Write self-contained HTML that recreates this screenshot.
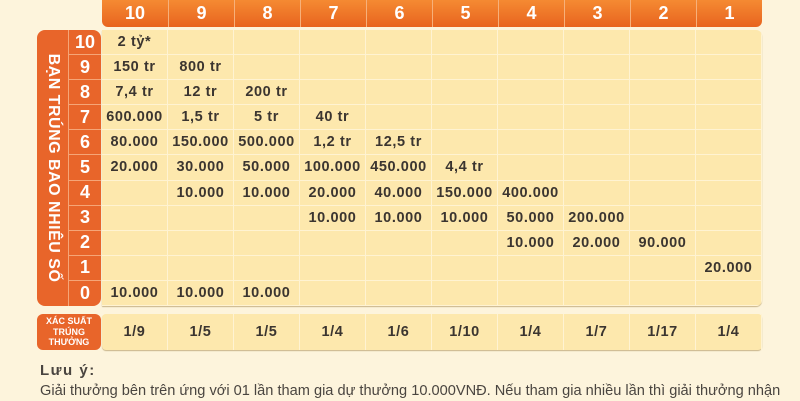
<!DOCTYPE html>
<html><head><meta charset="utf-8"><style>
*{margin:0;padding:0;box-sizing:border-box}
body{width:800px;height:400px;overflow:hidden;background:#fdf4dc;font-family:"Liberation Sans",sans-serif;position:relative}
.hdr{position:absolute;left:102px;top:0;width:660px;height:27px;background:linear-gradient(#f58a32,#e8641f);border-radius:0 0 6px 6px;display:grid;grid-template-columns:repeat(10,1fr)}
.hdr div{color:#fff;font-weight:bold;font-size:18px;text-align:center;line-height:27px;border-left:1px solid #f7b07a}
.hdr div:first-child{border-left:none}
.body{position:absolute;left:102px;top:30px;width:660px;height:276px;background:#fde8ad;border-radius:0 6px 6px 0;box-shadow:0 1px 1px #c9b58a;display:grid;grid-template-columns:repeat(10,1fr);grid-template-rows:repeat(11,1fr);overflow:hidden}
.body div,.prob div{border-right:1px solid #fff3d2;border-bottom:1px solid #fff3d2;font-weight:bold;font-size:14.5px;letter-spacing:0.6px;color:#3b3530;text-align:center;display:flex;align-items:center;justify-content:center;white-space:nowrap}
.vl{position:absolute;left:37px;top:30px;width:31px;height:276px;background:#e8652a;border-radius:8px 0 0 8px}
.vl span{position:absolute;left:50%;top:50%;transform:translate(-50%,-50%) rotate(90deg);white-space:nowrap;color:#fff;font-weight:bold;font-size:16px;letter-spacing:0.5px}
.rl{position:absolute;left:68px;top:30px;width:33px;height:276px;background:#e8652a;border-radius:0 8px 8px 0;display:grid;grid-template-rows:repeat(11,1fr)}
.rl div{color:#fff;font-weight:bold;font-size:18px;text-align:center;display:flex;align-items:center;justify-content:center;border-bottom:1px solid #f5a577;border-left:1px solid #f5a577}
.rl div:last-child{border-bottom:none}
.pl{position:absolute;left:37px;top:314px;width:64px;height:36px;background:#e8652a;border-radius:6px;color:#fff;font-weight:bold;font-size:9px;line-height:10.5px;text-align:center;padding-top:2px}
.prob{position:absolute;left:102px;top:314px;width:660px;height:36px;background:#fde8ad;border-radius:4px;box-shadow:0 1px 1px #c9b58a;display:grid;grid-template-columns:repeat(10,1fr)}
.prob div{border-bottom:none}
.note{position:absolute;left:40px;top:361px;color:#4a4540;font-size:14.6px;line-height:20px;white-space:nowrap}
.note b{font-size:15px;letter-spacing:1.5px}
</style></head><body>
<div class="hdr"><div>10</div><div>9</div><div>8</div><div>7</div><div>6</div><div>5</div><div>4</div><div>3</div><div>2</div><div>1</div></div>
<div class="vl"><span>BẠN TRÚNG BAO NHIÊU SỐ</span></div>
<div class="rl"><div>10</div><div>9</div><div>8</div><div>7</div><div>6</div><div>5</div><div>4</div><div>3</div><div>2</div><div>1</div><div>0</div></div>
<div class="body">
<div>2 tỷ*</div><div></div><div></div><div></div><div></div><div></div><div></div><div></div><div></div><div></div>
<div>150 tr</div><div>800 tr</div><div></div><div></div><div></div><div></div><div></div><div></div><div></div><div></div>
<div>7,4 tr</div><div>12 tr</div><div>200 tr</div><div></div><div></div><div></div><div></div><div></div><div></div><div></div>
<div>600.000</div><div>1,5 tr</div><div>5 tr</div><div>40 tr</div><div></div><div></div><div></div><div></div><div></div><div></div>
<div>80.000</div><div>150.000</div><div>500.000</div><div>1,2 tr</div><div>12,5 tr</div><div></div><div></div><div></div><div></div><div></div>
<div>20.000</div><div>30.000</div><div>50.000</div><div>100.000</div><div>450.000</div><div>4,4 tr</div><div></div><div></div><div></div><div></div>
<div></div><div>10.000</div><div>10.000</div><div>20.000</div><div>40.000</div><div>150.000</div><div>400.000</div><div></div><div></div><div></div>
<div></div><div></div><div></div><div>10.000</div><div>10.000</div><div>10.000</div><div>50.000</div><div>200.000</div><div></div><div></div>
<div></div><div></div><div></div><div></div><div></div><div></div><div>10.000</div><div>20.000</div><div>90.000</div><div></div>
<div></div><div></div><div></div><div></div><div></div><div></div><div></div><div></div><div></div><div>20.000</div>
<div>10.000</div><div>10.000</div><div>10.000</div><div></div><div></div><div></div><div></div><div></div><div></div><div></div>
</div>
<div class="pl">XÁC SUẤT<br>TRÚNG<br>THƯỞNG</div>
<div class="prob"><div>1/9</div><div>1/5</div><div>1/5</div><div>1/4</div><div>1/6</div><div>1/10</div><div>1/4</div><div>1/7</div><div>1/17</div><div>1/4</div></div>
<div class="note"><b>Lưu ý:</b><br>Giải thưởng bên trên ứng với 01 lần tham gia dự thưởng 10.000VNĐ. Nếu tham gia nhiều lần thì giải thưởng nhận</div>
</body></html>
